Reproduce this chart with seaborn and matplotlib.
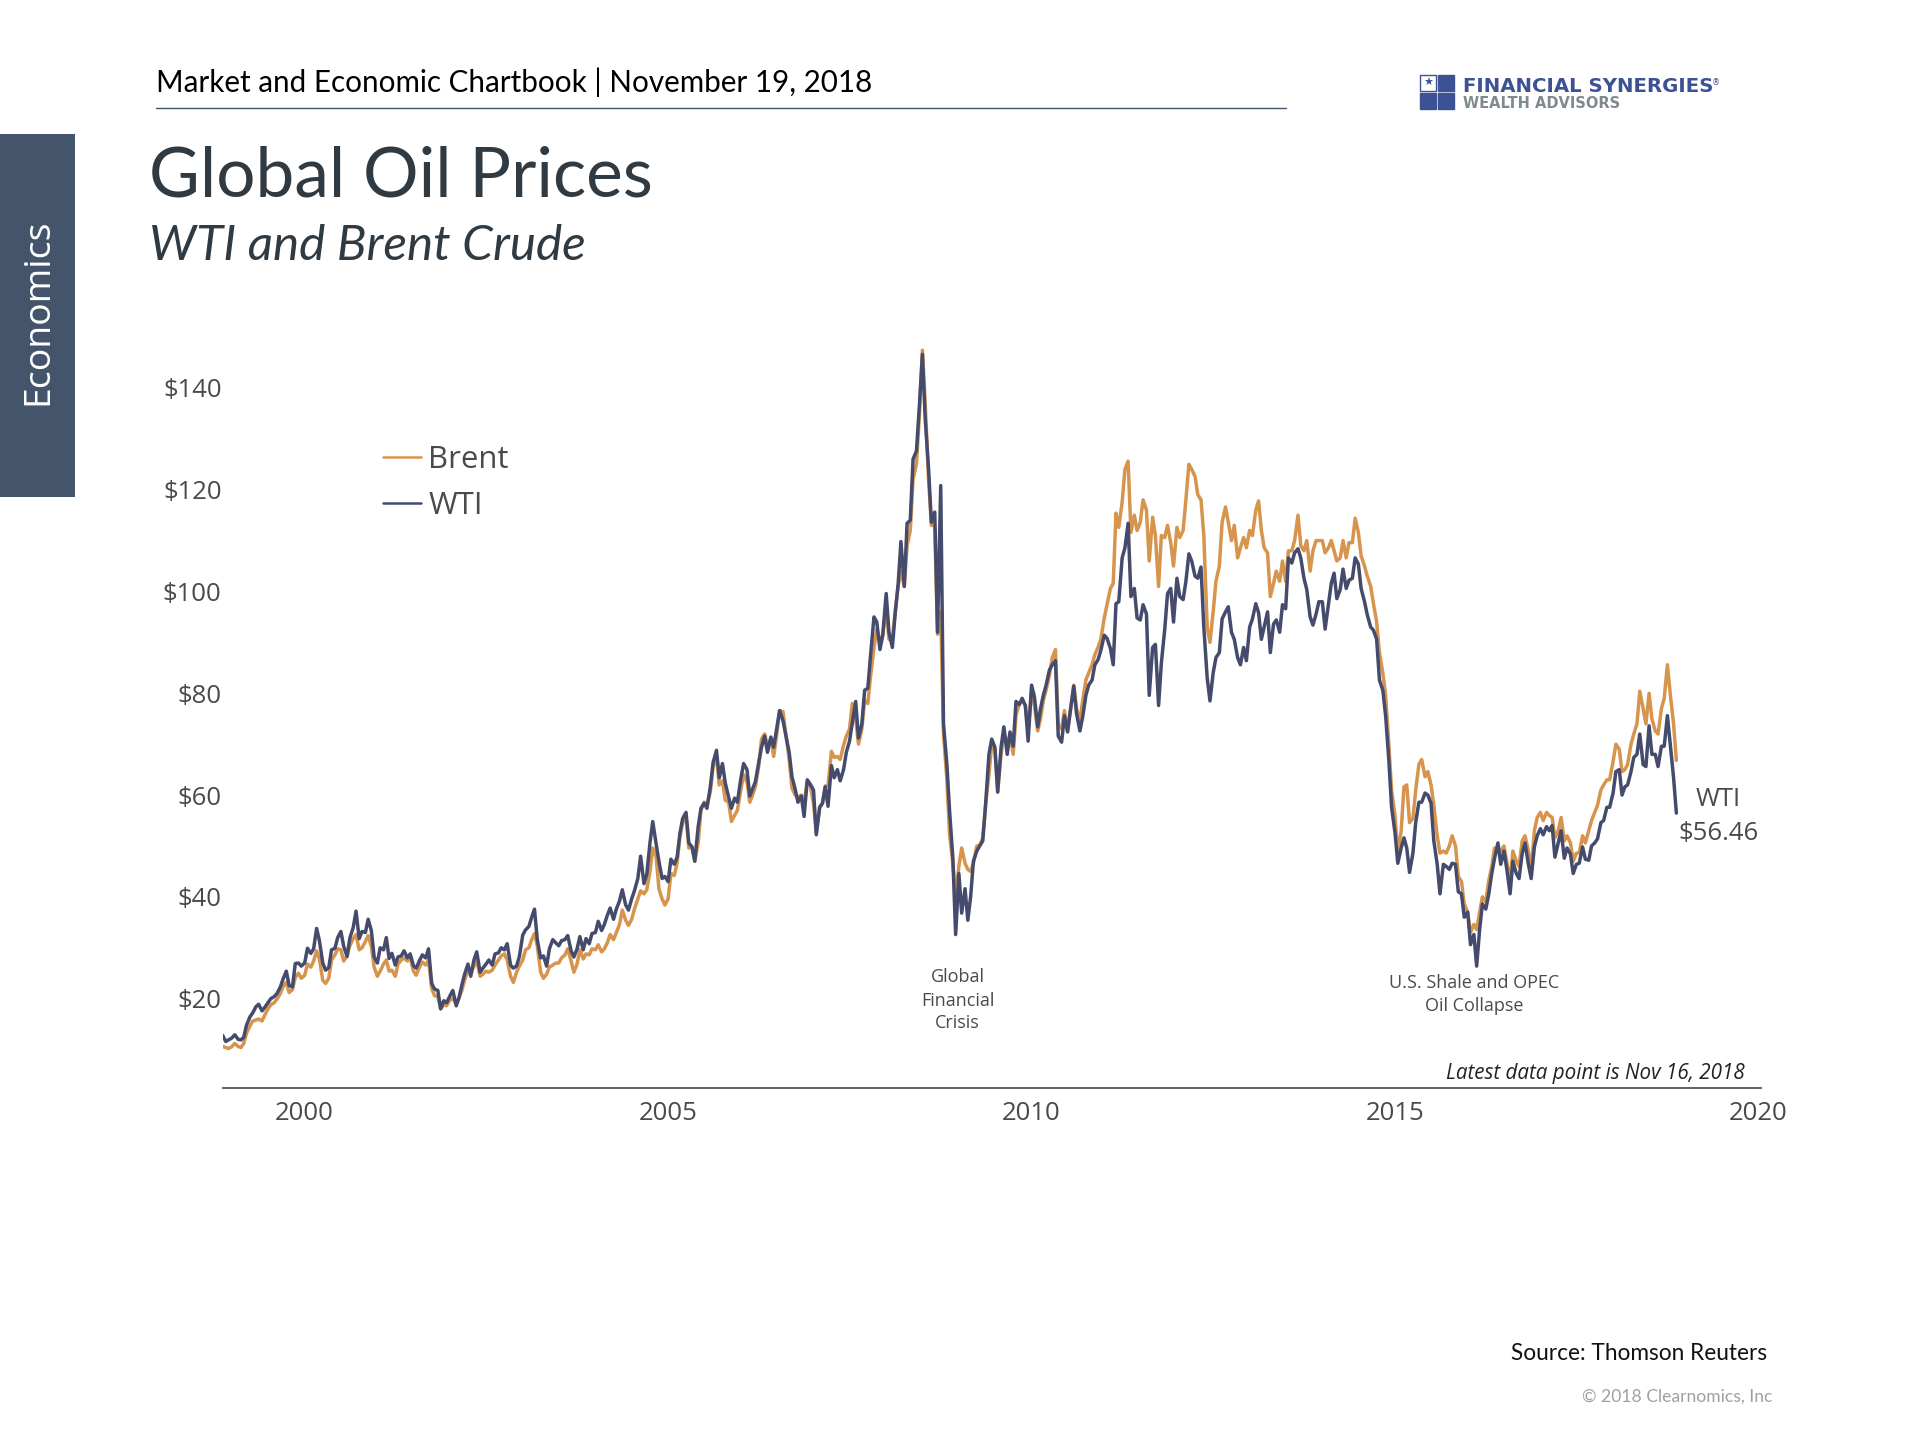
import pandas as pd
import matplotlib.pyplot as plt
from matplotlib.patches import Rectangle
import seaborn as sns

# half-monthly readings, one row per year (first row starts mid Nov 1998)
wti = [
    12.8, 11.6, 11.9,
    12.3, 12.9, 12.0, 11.9, 12.4, 14.8, 16.4, 17.2, 18.4, 18.9, 17.6, 18.3, 19.2, 20.0, 20.4, 21.0, 22.3, 23.9, 25.4, 22.6, 22.3, 26.9, 27.0, 26.4,
    27.0, 29.9, 28.9, 29.8, 33.8, 31.4, 27.0, 25.6, 26.1, 29.6, 29.9, 32.0, 33.2, 30.3, 28.3, 31.9, 34.0, 37.2, 31.8, 33.2, 33.0, 35.6, 33.4, 28.2,
    27.0, 30.0, 29.6, 32.0, 27.9, 28.9, 26.6, 28.2, 28.4, 29.4, 28.0, 28.8, 26.5, 26.0, 27.5, 28.6, 28.0, 29.8, 23.0, 21.9, 21.6, 18.0, 19.6, 19.2,
    20.6, 21.6, 18.6, 20.2, 22.6, 24.8, 26.8, 24.4, 27.6, 29.2, 25.2, 26.0, 26.8, 27.6, 26.6, 28.8, 29.0, 30.0, 29.6, 30.8, 26.6, 26.0, 26.4, 28.2,
    32.5, 33.5, 34.2, 36.0, 37.6, 31.6, 28.0, 28.4, 26.4, 29.8, 31.6, 31.0, 30.4, 31.4, 31.6, 32.4, 29.4, 28.2, 29.8, 32.2, 29.6, 31.8, 30.8, 32.8,
    33.0, 35.2, 33.4, 34.6, 36.4, 37.8, 35.6, 37.6, 39.2, 41.4, 38.4, 37.4, 39.6, 41.2, 43.6, 48.0, 42.6, 44.4, 50.6, 54.8, 50.4, 47.0, 43.6, 44.0,
    43.0, 47.4, 46.4, 47.8, 52.4, 55.4, 56.6, 50.6, 49.8, 47.0, 53.8, 57.4, 58.4, 57.4, 61.6, 66.4, 68.8, 63.4, 66.2, 62.4, 59.6, 57.4, 59.4, 58.6,
    63.2, 66.2, 65.0, 59.8, 61.2, 62.6, 66.4, 69.4, 71.6, 68.4, 71.4, 69.4, 73.2, 76.6, 74.6, 71.8, 68.4, 63.6, 61.2, 58.6, 59.8, 55.8, 63.0, 62.2,
    61.0, 52.2, 57.6, 58.4, 61.6, 57.8, 65.8, 63.4, 65.0, 62.8, 65.0, 68.4, 70.6, 74.2, 78.4, 71.2, 74.0, 80.6, 81.0, 87.6, 95.0, 94.0, 88.6, 91.4,
    99.6, 92.0, 89.0, 95.6, 101.4, 109.8, 101.0, 113.4, 114.0, 126.0, 127.6, 136.0, 146.6, 134.0, 124.0, 113.6, 115.6, 92.0, 120.8, 74.0, 66.0, 56.6, 47.6, 32.6,
    44.6, 36.8, 41.6, 35.4, 40.0, 47.0, 49.0, 50.0, 51.0, 58.0, 68.0, 71.0, 69.4, 60.6, 69.4, 73.4, 68.0, 72.4, 69.6, 78.4, 77.8, 79.0, 77.6, 70.6,
    81.6, 79.4, 73.4, 77.0, 79.6, 81.6, 84.6, 85.6, 86.4, 71.6, 70.4, 75.6, 72.4, 76.6, 81.4, 76.0, 72.6, 75.4, 79.6, 81.6, 82.6, 85.6, 86.6, 88.4,
    91.4, 90.8, 88.8, 85.6, 97.6, 98.0, 106.6, 108.6, 113.4, 99.0, 100.6, 94.8, 94.4, 97.4, 95.6, 79.6, 89.0, 89.6, 77.6, 86.0, 92.6, 99.6, 100.6, 94.0,
    102.6, 99.0, 98.4, 102.0, 107.4, 106.0, 103.0, 102.6, 104.8, 93.0, 83.0, 78.5, 84.0, 87.0, 88.0, 94.6, 96.0, 97.0, 92.0, 90.6, 87.0, 85.6, 89.0, 86.4,
    93.0, 94.6, 97.6, 95.8, 90.6, 93.0, 96.0, 88.0, 93.6, 94.4, 92.0, 97.4, 96.6, 106.6, 105.6, 107.6, 108.4, 106.6, 102.6, 100.4, 95.0, 93.4, 95.6, 98.0,
    98.0, 92.6, 97.6, 101.6, 103.6, 98.6, 100.4, 104.4, 100.6, 102.2, 102.6, 106.6, 105.4, 100.6, 98.0, 95.4, 93.0, 92.4, 90.6, 82.6, 80.6, 75.6, 67.0, 57.6,
    52.6, 46.6, 49.6, 51.6, 49.6, 44.8, 48.6, 54.6, 58.6, 58.6, 60.4, 60.0, 58.4, 51.0, 46.4, 40.6, 46.4, 46.0, 45.4, 46.6, 46.4, 41.0, 40.6, 36.0,
    37.0, 30.6, 32.6, 26.4, 33.6, 38.6, 37.6, 40.4, 44.6, 47.6, 50.6, 46.4, 49.0, 45.6, 40.6, 47.0, 44.6, 43.6, 48.6, 50.6, 46.4, 43.6, 49.8, 52.0,
    53.4, 52.2, 53.8, 53.0, 54.0, 47.8, 50.6, 53.0, 47.6, 49.6, 48.4, 44.6, 46.4, 46.6, 49.8, 47.4, 47.2, 50.0, 50.6, 51.4, 54.6, 55.0, 57.6, 57.6,
    60.4, 64.6, 65.0, 60.0, 61.6, 62.0, 64.6, 67.4, 68.0, 72.0, 66.0, 65.6, 73.6, 68.0, 68.0, 65.6, 69.6, 69.6, 75.6, 70.0, 63.4, 56.46,
]
brent = [
    10.6, 10.4, 10.2,
    10.6, 11.2, 10.6, 10.4, 11.2, 13.2, 14.6, 15.6, 15.8, 16.0, 15.6, 16.8, 18.0, 18.8, 19.2, 19.9, 21.0, 22.4, 23.2, 21.2, 21.8, 24.2, 25.0, 24.0,
    24.6, 26.8, 26.2, 27.4, 29.4, 27.8, 23.6, 23.0, 24.0, 27.6, 28.6, 29.8, 29.6, 27.4, 28.4, 30.4, 31.8, 32.6, 29.6, 30.0, 31.2, 32.4, 30.2, 26.2,
    24.4, 25.4, 26.8, 27.6, 25.4, 25.6, 24.4, 26.8, 27.6, 28.0, 27.4, 28.0, 25.4, 24.6, 26.2, 27.2, 26.6, 27.6, 22.0, 20.6, 20.4, 18.0, 18.8, 18.6,
    19.8, 20.0, 19.0, 20.2, 21.6, 23.6, 25.6, 25.0, 26.4, 27.4, 24.4, 24.8, 25.4, 25.2, 25.6, 26.6, 27.6, 28.4, 28.8, 27.6, 24.4, 23.2, 25.2, 26.4,
    27.6, 29.6, 30.0, 31.6, 32.8, 30.4, 25.2, 24.0, 24.8, 26.2, 26.6, 27.0, 27.0, 28.0, 28.6, 29.8, 27.4, 25.2, 26.8, 29.6, 27.8, 28.8, 28.6, 29.8,
    29.6, 30.6, 29.2, 29.8, 31.0, 32.6, 31.6, 33.0, 34.6, 37.4, 35.4, 34.4, 35.6, 37.6, 39.6, 41.2, 40.6, 41.4, 45.0, 49.6, 47.8, 41.6, 39.6, 38.4,
    39.6, 44.6, 44.2, 46.6, 51.6, 54.6, 55.6, 49.6, 49.8, 47.0, 50.6, 57.0, 58.6, 58.0, 60.6, 65.6, 67.6, 62.0, 62.8, 59.0, 58.6, 54.8, 56.0, 57.0,
    61.0, 64.0, 62.6, 58.6, 60.0, 61.6, 65.6, 71.0, 72.0, 69.6, 71.0, 67.6, 72.0, 76.6, 76.4, 72.0, 67.0, 61.4, 60.0, 59.6, 60.0, 58.6, 62.6, 62.0,
    58.4, 52.6, 57.6, 58.4, 61.8, 61.8, 68.6, 67.4, 67.6, 67.0, 69.8, 71.6, 73.0, 78.0, 75.0, 70.0, 73.0, 78.6, 78.0, 83.4, 89.0, 92.6, 90.0, 91.6,
    96.6, 90.6, 90.6, 96.0, 101.0, 104.0, 101.0, 109.0, 112.0, 122.0, 125.0, 134.0, 147.4, 137.0, 122.0, 113.0, 113.0, 91.6, 96.0, 72.0, 63.0, 52.0, 46.6, 40.0,
    46.0, 49.6, 46.6, 45.4, 45.0, 46.6, 50.0, 50.0, 51.6, 58.0, 64.0, 70.0, 69.0, 60.6, 68.0, 72.0, 70.0, 72.0, 68.0, 75.6, 78.0, 78.6, 77.6, 72.6,
    80.6, 77.6, 72.6, 75.0, 78.6, 80.6, 83.6, 87.0, 88.6, 74.0, 73.0, 76.6, 72.6, 76.6, 81.6, 77.0, 74.6, 78.6, 82.6, 84.0, 85.6, 87.6, 89.0, 90.6,
    94.8, 97.4, 100.6, 101.6, 115.4, 112.6, 117.6, 124.0, 125.6, 111.6, 115.0, 112.0, 113.6, 118.0, 116.0, 106.0, 114.6, 111.0, 101.0, 111.0, 110.6, 113.0, 109.6, 105.0,
    112.6, 110.6, 112.0, 118.0, 125.0, 124.0, 122.6, 119.0, 118.0, 111.0, 93.0, 90.0, 96.0, 102.0, 105.0, 113.6, 116.6, 113.6, 110.0, 113.0, 106.6, 108.6, 110.6, 108.6,
    112.0, 111.0, 116.0, 117.8, 112.0, 108.6, 107.6, 99.0, 101.6, 104.0, 102.0, 106.0, 102.0, 108.0, 108.0, 110.0, 115.0, 109.0, 108.0, 110.0, 104.0, 108.0, 110.0, 110.0,
    110.0, 107.6, 108.6, 110.0, 108.0, 106.0, 106.6, 110.0, 106.6, 109.6, 109.6, 114.4, 111.6, 107.0, 105.0, 103.0, 101.0, 97.6, 94.0, 88.0, 84.0, 79.6, 70.0, 61.0,
    56.0, 48.6, 53.0, 61.6, 62.0, 54.6, 55.4, 61.0, 66.0, 67.0, 63.6, 64.6, 62.0, 58.0, 52.0, 48.6, 49.0, 48.6, 50.0, 52.0, 50.0, 44.0, 43.0, 38.6,
    37.0, 33.0, 34.6, 33.6, 37.0, 40.0, 39.0, 43.0, 46.0, 49.6, 49.6, 49.0, 50.0, 47.0, 43.0, 49.0, 47.0, 46.0, 51.0, 52.0, 49.0, 45.0, 53.0, 55.6,
    56.6, 55.0, 56.6, 56.0, 55.6, 51.6, 53.0, 55.6, 51.0, 52.0, 50.6, 47.0, 48.6, 48.6, 52.0, 50.6, 53.0, 55.0, 56.6, 58.0, 61.0, 62.0, 63.0, 63.0,
    66.6, 70.0, 69.0, 64.6, 65.0, 66.0, 70.0, 72.0, 74.0, 80.4, 77.0, 74.0, 80.0, 75.0, 72.6, 72.0, 77.0, 79.0, 85.6, 80.0, 74.0, 66.8,
]
year_ticks = [2000, 2005, 2010, 2015, 2020]
price_ticks = [20, 40, 60, 80, 100, 120, 140]

BRENT_COL = "#D6944C"
WTI_COL = "#454B6C"
TEXT_COL = "#4A4A4A"
DARK = "#2F3A42"
W, H = 1920, 1440

def to_year(dates):
    return dates.year + (dates.dayofyear - 1) / 365.25

def px_text(x, y, s, **kw):
    kw.setdefault("va", "center")
    return fig.text(x / W, 1 - y / H, s, **kw)

sns.set_theme(style="white")
plt.rcParams["font.family"] = ["Open Sans", "DejaVu Sans"]

brent_df = pd.DataFrame({"year": to_year(pd.date_range("1998-11-15", periods=len(brent), freq="SMS")),
                         "price": brent, "series": "Brent"})
wti_df = pd.DataFrame({"year": to_year(pd.date_range("1998-11-15", periods=len(wti), freq="SMS")),
                       "price": wti, "series": "WTI"})
data = pd.concat([brent_df, wti_df], ignore_index=True)

fig = plt.figure(figsize=(19.2, 14.4), dpi=100)
ax = fig.add_axes([222.9 / W, 1 - 1088.4 / H, (1761 - 222.9) / W, (1088.4 - 337) / H])

sns.lineplot(data=data, x="year", y="price", hue="series", palette={"Brent": BRENT_COL, "WTI": WTI_COL},
             linewidth=2.5, ax=ax, estimator=None, errorbar=None)

ax.set_xlim(1998.875, 2020.035)
ax.set_ylim(2.37, 150)
ax.set_xticks(year_ticks)
ax.set_yticks(price_ticks)
ax.set_yticklabels(["$" + str(p) for p in price_ticks])
ax.set_xlabel("")
ax.set_ylabel("")
ax.tick_params(axis="both", length=0, labelsize=18.5, labelcolor=TEXT_COL)
ax.tick_params(axis="x", pad=9)
ax.tick_params(axis="y", pad=1)
sns.despine(ax=ax, left=True)
ax.spines["bottom"].set_color("#555555")
ax.spines["bottom"].set_linewidth(1.3)

sns.move_legend(ax, "upper left", bbox_to_anchor=(383 / W, 1 - 445 / H), bbox_transform=fig.transFigure,
                title=None, frameon=False, fontsize=22.4, labelcolor=TEXT_COL, handlelength=1.22,
                handletextpad=0.24, labelspacing=0.52, borderpad=0, borderaxespad=0)
for handle in ax.get_legend().get_lines():
    handle.set_linewidth(1.8)

# header
px_text(155.5, 82, "Market and Economic Chartbook | November 19, 2018", family="Lato", fontsize=21.3, color="black")
fig.add_artist(plt.Line2D([155.5 / W, 1286 / W], [1 - 107.8 / H, 1 - 107.8 / H], color="#44546A", lw=1))
px_text(149, 177, "Global Oil Prices", family="Lato", fontsize=50, color=DARK)
px_text(149, 246, "WTI and Brent Crude", family="Lato", style="italic", fontsize=35.6, color=DARK)

# side tab
fig.add_artist(Rectangle((0, 1 - 497.3 / H), 74.7 / W, 363.8 / H, transform=fig.transFigure, color="#44546A", lw=0))
px_text(38, 312, "Economics", rotation=90, ha="center", family="Open Sans", fontsize=26.9, color="white")

# logo
for lx, ly, filled in [(1420, 75, False), (1438, 75, True), (1420, 93, True), (1438, 93, True)]:
    fig.add_artist(Rectangle((lx / W, 1 - (ly + 16) / H), 16 / W, 16 / H, transform=fig.transFigure,
                             facecolor="#3D5294" if filled else "white", edgecolor="#3D5294", lw=1))
px_text(1428, 83, "★", ha="center", family="DejaVu Sans", fontsize=8, color="#3D5294")
px_text(1463, 87, "FINANCIAL SYNERGIES", family="DejaVu Sans", weight="bold", fontsize=14.2, color="#3D5294")
px_text(1720, 83, "®", ha="right", family="DejaVu Sans", fontsize=6, color="#3D5294")
px_text(1463, 103, "WEALTH ADVISORS", family="DejaVu Sans", weight="bold", fontsize=10.5, color="#7F8A8E")

# notes on the chart
px_text(957.6, 977.5, "Global", ha="center", fontsize=13, color=TEXT_COL)
px_text(957.6, 1000.5, "Financial", ha="center", fontsize=13, color=TEXT_COL)
px_text(957.6, 1023.5, "Crisis", ha="center", fontsize=13, color=TEXT_COL)
px_text(1474, 983, "U.S. Shale and OPEC", ha="center", fontsize=13, color=TEXT_COL)
px_text(1474, 1006, "Oil Collapse", ha="center", fontsize=13, color=TEXT_COL)
px_text(1718, 800, "WTI", ha="center", fontsize=18.5, color=TEXT_COL)
px_text(1718, 833, "$56.46", ha="center", fontsize=18.5, color=TEXT_COL)
px_text(1745, 1073, "Latest data point is Nov 16, 2018", ha="right", style="italic", fontsize=14.9, color="#222222")

# footer
px_text(1767, 1354, "Source: Thomson Reuters", ha="right", family="Lato", fontsize=16.25, color="#111111")
px_text(1772, 1396.5, "© 2018 Clearnomics, Inc", ha="right", family="Lato", fontsize=12.6, color="#A0A0A0")

fig.savefig("out.png", dpi=100)
